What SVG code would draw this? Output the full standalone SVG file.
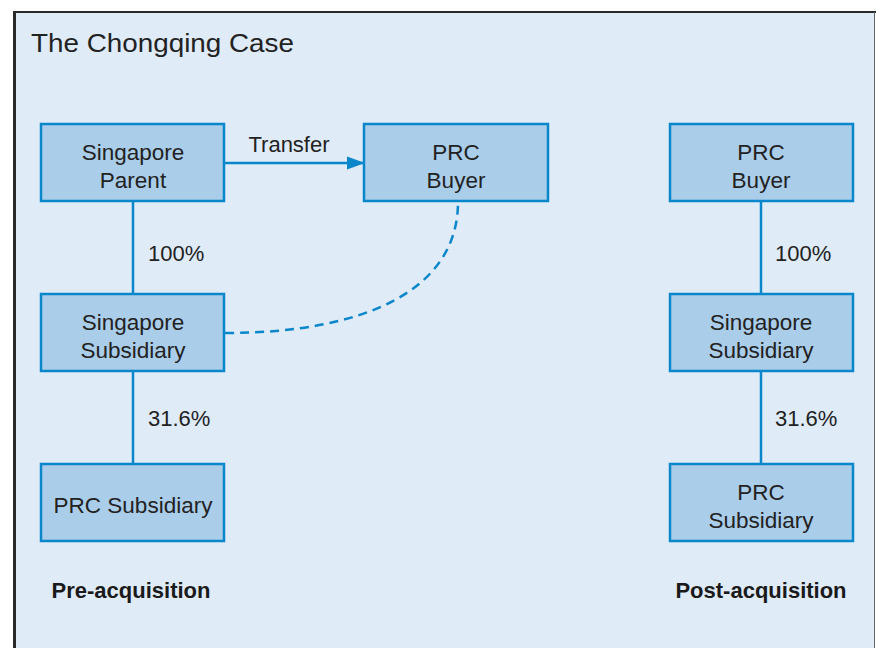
<svg xmlns="http://www.w3.org/2000/svg" width="876" height="648" viewBox="0 0 876 648">
<defs>
<style>
.box{fill:#aacde9;stroke:#0a87ca;stroke-width:2.5}
.t{font-family:"Liberation Sans",Arial,sans-serif;font-size:22.5px;fill:#222;text-anchor:middle}
.lbl{font-family:"Liberation Sans",Arial,sans-serif;font-size:22px;fill:#222}
.hd{font-family:"Liberation Sans",Arial,sans-serif;font-size:22px;font-weight:bold;fill:#1a1a1a;text-anchor:middle}
.ln{stroke:#0a87ca;stroke-width:2.5;fill:none}
</style>
<marker id="arr" markerWidth="18" markerHeight="14" refX="17" refY="7" orient="auto" markerUnits="userSpaceOnUse" viewBox="0 0 18 14">
<path d="M0,0.5 L18,7 L0,13.5 Z" fill="#0a87ca"/>
</marker>
</defs>
<rect x="0" y="0" width="876" height="648" fill="#ffffff"/>
<rect x="14.5" y="12" width="860" height="650" fill="#dfebf7" stroke="none"/>
<line x1="14.5" y1="11" x2="14.5" y2="648" stroke="#2a2a2a" stroke-width="3"/>
<line x1="13" y1="12" x2="876" y2="12" stroke="#2a2a2a" stroke-width="2"/>
<line x1="874.5" y1="12" x2="874.5" y2="648" stroke="#666" stroke-width="1"/>
<text x="31" y="52" font-family="'Liberation Sans',Arial,sans-serif" font-size="26.5" fill="#222" textLength="263" lengthAdjust="spacingAndGlyphs">The Chongqing Case</text>

<g id="connectors">
<line class="ln" x1="224" y1="163" x2="364" y2="163" marker-end="url(#arr)"/>
<line class="ln" x1="133" y1="201" x2="133" y2="294"/>
<line class="ln" x1="133" y1="371" x2="133" y2="464"/>
<line class="ln" x1="761" y1="201" x2="761" y2="294"/>
<line class="ln" x1="761" y1="371" x2="761" y2="464"/>
<path class="ln" d="M225,333 C365,333 458,290 458,202" stroke-dasharray="9,6"/>
<text class="lbl" x="289" y="152" text-anchor="middle">Transfer</text>
<text class="lbl" x="148" y="261">100%</text>
<text class="lbl" x="148" y="426">31.6%</text>
<text class="lbl" x="775" y="261">100%</text>
<text class="lbl" x="775" y="426">31.6%</text>
</g>

<g id="sg-parent"><rect class="box" x="41" y="124" width="183" height="77"/><text class="t" x="133" y="160">Singapore</text><text class="t" x="133" y="188">Parent</text></g>
<g id="prc-buyer-pre"><rect class="box" x="364" y="124" width="184" height="77"/><text class="t" x="456" y="160">PRC</text><text class="t" x="456" y="188">Buyer</text></g>
<g id="sg-sub-pre"><rect class="box" x="41" y="294" width="183" height="77"/><text class="t" x="133" y="330">Singapore</text><text class="t" x="133" y="358">Subsidiary</text></g>
<g id="prc-sub-pre"><rect class="box" x="41" y="464" width="183" height="77"/><text class="t" x="133" y="513">PRC Subsidiary</text></g>

<g id="prc-buyer-post"><rect class="box" x="670" y="124" width="183" height="77"/><text class="t" x="761" y="160">PRC</text><text class="t" x="761" y="188">Buyer</text></g>
<g id="sg-sub-post"><rect class="box" x="670" y="294" width="183" height="77"/><text class="t" x="761" y="330">Singapore</text><text class="t" x="761" y="358">Subsidiary</text></g>
<g id="prc-sub-post"><rect class="box" x="670" y="464" width="183" height="77"/><text class="t" x="761" y="500">PRC</text><text class="t" x="761" y="528">Subsidiary</text></g>

<text class="hd" x="131" y="598">Pre-acquisition</text>
<text class="hd" x="761" y="598">Post-acquisition</text>
</svg>
